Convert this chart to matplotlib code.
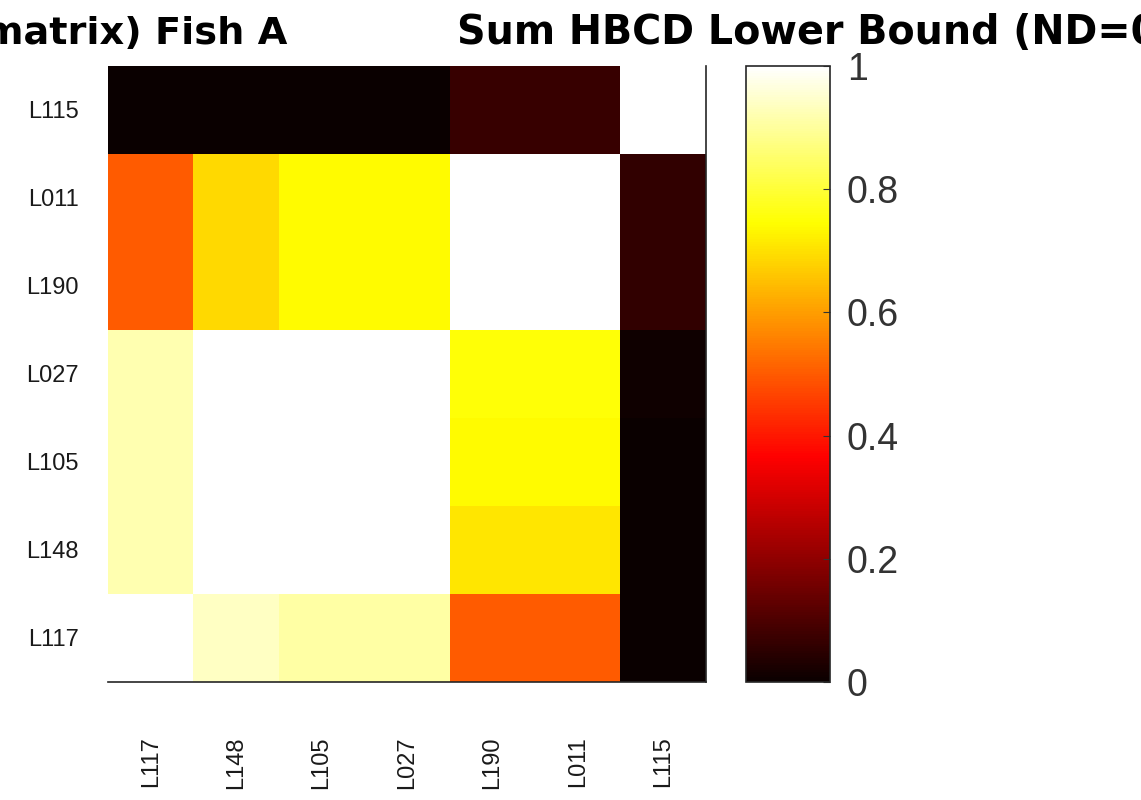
import numpy as np
import matplotlib
matplotlib.use("Agg")
import matplotlib.pyplot as plt

plt.rcParams['font.family'] = ['Liberation Sans', 'DejaVu Sans']

labels = ["L117", "L148", "L105", "L027", "L190", "L011", "L115"]

# correlation matrix rows in label order (bottom row = L117)
row_L117 = [1.00, 0.94, 0.91, 0.91, 0.50, 0.50, 0.00]
row_L148 = [0.92, 1.00, 1.00, 1.00, 0.71, 0.71, 0.00]
row_L105 = [0.92, 1.00, 1.00, 1.00, 0.74, 0.74, 0.00]
row_L027 = [0.92, 1.00, 1.00, 1.00, 0.75, 0.75, 0.01]
row_L190 = [0.50, 0.69, 0.74, 0.74, 1.00, 1.00, 0.06]
row_L011 = [0.50, 0.69, 0.74, 0.74, 1.00, 1.00, 0.06]
row_L115 = [0.00, 0.00, 0.00, 0.00, 0.07, 0.07, 1.00]

matrix = np.array([row_L117, row_L148, row_L105, row_L027,
                   row_L190, row_L011, row_L115])

W, H = 1141, 800
fig = plt.figure(figsize=(W / 100, H / 100), dpi=100)

ax = fig.add_axes([108 / W, 1 - 682 / H, (706 - 108) / W, (682 - 66) / H])
im = ax.imshow(matrix, cmap='hot', vmin=0, vmax=1, origin='lower',
               aspect='auto', interpolation='nearest')
ax.set_xticks(range(len(labels)))
ax.set_yticks(range(len(labels)))
ax.set_xticklabels(labels, rotation=90, fontsize=17, color='#1a1a1a')
ax.set_yticklabels(labels, fontsize=17, color='#1a1a1a')
ax.tick_params(axis='both', length=0)
ax.tick_params(axis='x', pad=39)
ax.tick_params(axis='y', pad=21)
for s in ['left', 'top']:
    ax.spines[s].set_visible(False)
for s in ['bottom', 'right']:
    ax.spines[s].set_linewidth(1.2)
    ax.spines[s].set_color('#262626')

cax = fig.add_axes([746 / W, 1 - 682 / H, (830 - 746) / W, (682 - 66) / H])
cb = fig.colorbar(im, cax=cax)
cb.set_ticks([0, 0.2, 0.4, 0.6, 0.8, 1])
cb.set_ticklabels(['0', '0.2', '0.4', '0.6', '0.8', '1'])
cb.ax.tick_params(labelsize=27, direction='in', length=5, pad=12,
                  colors='#333333')
cb.outline.set_linewidth(1.2)
cb.outline.set_edgecolor('#262626')

fig.text(287 / W, 1 - 44 / H, "(Correlation matrix) Fish A", ha='right',
         va='baseline', fontsize=27.5, fontweight='bold', color='black',
         family='DejaVu Sans')
fig.text(457 / W, 1 - 44 / H, "Sum HBCD Lower Bound (ND=0)", ha='left',
         va='baseline', fontsize=28.5, fontweight='bold', color='black',
         family='DejaVu Sans')

fig.savefig("out.png", dpi=100)
